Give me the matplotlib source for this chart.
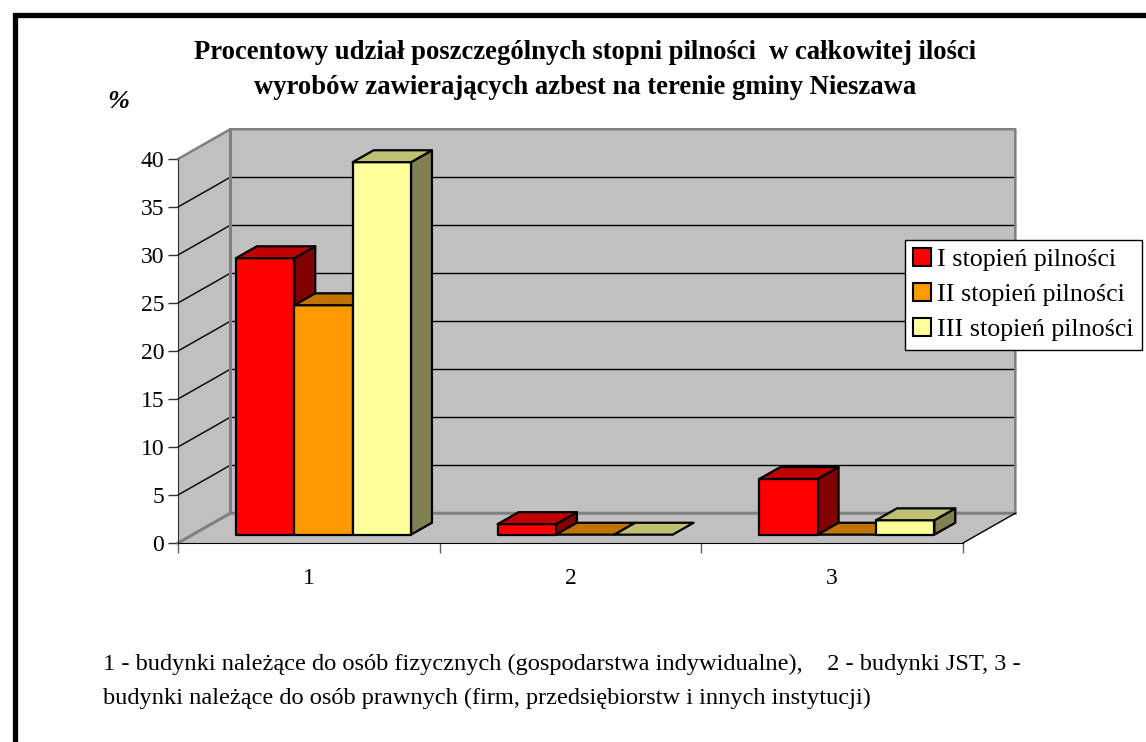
import matplotlib.pyplot as plt
from matplotlib.patches import Polygon, Patch, Rectangle

# data (percent)
categories = ['1', '2', '3']
series_names = ['I stopień pilności', 'II stopień pilności', 'III stopień pilności']
stopien_1 = [28.8, 1.1, 5.8]
stopien_2 = [23.9, 0.0, 0.0]
stopien_3 = [38.8, 0.0, 1.5]
y_ticks = [0, 5, 10, 15, 20, 25, 30, 35, 40]

title = ('Procentowy udział poszczególnych stopni pilności  w całkowitej ilości\n'
         'wyrobów zawierających azbest na terenie gminy Nieszawa')
footnote = ('1 - budynki należące do osób fizycznych (gospodarstwa indywidualne),    2 - budynki JST, 3 -\n'
            'budynki należące do osób prawnych (firm, przedsiębiorstw i innych instytucji)')

face_colors = ['#FF0000', '#FF9900', '#FFFF99']
top_colors = ['#C00000', '#C07300', '#C0C073']
side_colors = ['#800000', '#804C00', '#808050']

plt.rcParams['font.family'] = ['Liberation Serif', 'DejaVu Serif']

W, H = 1146, 742
fig = plt.figure(figsize=(W / 100, H / 100), dpi=100)
fig.patch.set_facecolor('white')

# axes = front plane of the 3d box
ax = fig.add_axes([178 / W, (H - 543) / H, (963 - 178) / W, (543 - 159) / H])
ax.set_facecolor('none')
ax.set_xlim(0.5, 3.5)
ax.set_ylim(0, 40)

DX, DY = 0.2, 3.1        # full depth of box in data units
wall = '#C0C0C0'
edge = '#808080'
xa, xb = 0.5, 3.5
ytop = y_ticks[-1]

# back wall, side wall, floor
ax.add_patch(Polygon([(xa + DX, DY), (xb + DX, DY), (xb + DX, ytop + DY), (xa + DX, ytop + DY)],
                     facecolor=wall, edgecolor='none', clip_on=False, zorder=1))
ax.add_patch(Polygon([(xa, 0), (xa + DX, DY), (xa + DX, ytop + DY), (xa, ytop)],
                     facecolor=wall, edgecolor='none', clip_on=False, zorder=1))
ax.add_patch(Polygon([(xa, 0), (xb, 0), (xb + DX, DY), (xa + DX, DY)],
                     facecolor=wall, edgecolor='none', clip_on=False, zorder=1))

for v in y_ticks[1:-1]:
    ax.plot([xa + DX, xb + DX], [v + DY, v + DY], color='black', lw=1, clip_on=False, zorder=2)
    ax.plot([xa, xa + DX], [v, v + DY], color='black', lw=1, clip_on=False, zorder=2)

# wall edges
ax.plot([xa, xa + DX, xb + DX, xb + DX], [ytop, ytop + DY, ytop + DY, DY], color=edge, lw=1.8,
        clip_on=False, zorder=2)
ax.plot([xa + DX, xa + DX], [ytop + DY, DY], color=edge, lw=2.2, clip_on=False, zorder=2)
ax.plot([xa, xa + DX, xb + DX], [0, DY, DY], color=edge, lw=2.2, clip_on=False, zorder=2)
ax.plot([xb, xb + DX], [0, DY], color='black', lw=1, clip_on=False, zorder=2)

# bars
bar_w = 0.223
f0, fd = 0.28, 0.4
base = f0 * DY
shift = f0 * DX
bdx, bdy = fd * DX, fd * DY
series = [stopien_1, stopien_2, stopien_3]
z = 3
for i, cat in enumerate(categories):
    c = i + 1
    for j, vals in enumerate(series):
        v = vals[i]
        x0 = c - 1.5 * bar_w + j * bar_w + shift
        x1 = x0 + bar_w
        yb, yt = base, base + v
        kw = dict(edgecolor='black', lw=1.6, clip_on=False, joinstyle='round')
        if v > 0:
            ax.add_patch(Polygon([(x1, yb), (x1 + bdx, yb + bdy), (x1 + bdx, yt + bdy), (x1, yt)],
                                 facecolor=side_colors[j], zorder=z, **kw))
            ax.add_patch(Polygon([(x0, yb), (x1, yb), (x1, yt), (x0, yt)],
                                 facecolor=face_colors[j], zorder=z, **kw))
        ax.add_patch(Polygon([(x0, yt), (x1, yt), (x1 + bdx, yt + bdy), (x0 + bdx, yt + bdy)],
                             facecolor=top_colors[j], zorder=z, **kw))
        z += 1

# axes lines and ticks
for s in ['top', 'right']:
    ax.spines[s].set_visible(False)
ax.spines['left'].set_color('#303030')
ax.spines['bottom'].set_color('black')
ax.spines['left'].set_zorder(2)
ax.set_yticks(y_ticks)
ax.tick_params(axis='y', length=7, width=1, pad=3, labelsize=17, color='#303030')
ax.set_xticks([0.5, 1.5, 2.5, 3.5])
ax.set_xticklabels([])
ax.tick_params(axis='x', which='major', length=7, width=1, color='#606060')
ax.set_xticks([1, 2, 3], minor=True)
ax.set_xticklabels(categories, minor=True)
ax.tick_params(axis='x', which='minor', length=0, pad=18, labelsize=17)

# legend
handles = [Patch(facecolor=col, edgecolor='black', lw=1.5) for col in face_colors]
leg = fig.legend(handles, series_names, loc='upper left',
                 bbox_to_anchor=(905 / W, 1 - 240 / H), borderaxespad=0,
                 fontsize=18.7, frameon=True, fancybox=False, framealpha=1,
                 edgecolor='black', handlelength=0.7, handleheight=0.7,
                 handletextpad=0.22, labelspacing=0.45, borderpad=0.32)
leg.get_frame().set_linewidth(1)

# titles and texts
fig.text(585 / W, 1 - 70 / H, title, ha='center', va='center', fontsize=19.2,
         fontweight='bold', linespacing=1.5)
fig.text(118 / W, 1 - 102 / H, '%', ha='center', va='center', fontsize=19,
         fontweight='bold', fontstyle='italic')
fig.text(103 / W, 1 - 681 / H, footnote, ha='left', va='center', fontsize=17.6,
         linespacing=1.78)

# outer frame (cut by the image edges on right/bottom)
fig.add_artist(Rectangle((14.5 / W, -0.05), 1.1, 1 - 14.5 / H + 0.05, transform=fig.transFigure,
                         fill=False, edgecolor='black', lw=3.8))

fig.savefig('out.png', dpi=100)
